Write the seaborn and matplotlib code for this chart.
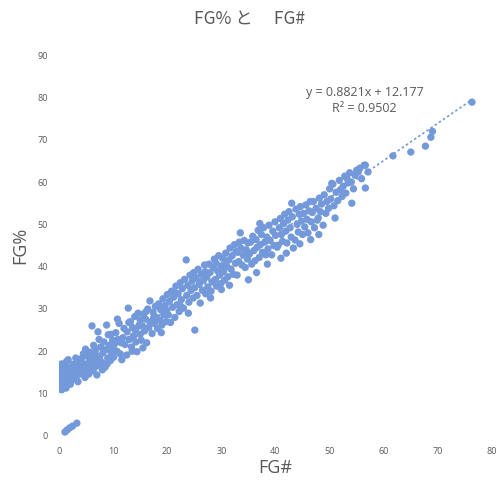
import matplotlib
matplotlib.use("Agg")
import matplotlib.pyplot as plt
import seaborn as sns
import numpy as np
import pandas as pd

title = "FG% と\u3000 FG#"
x_label = "FG#"
y_label = "FG%"
slope = 0.8821
intercept = 12.177
r2 = 0.9502
x_ticks = [0, 10, 20, 30, 40, 50, 60, 70, 80]
y_ticks = [0, 10, 20, 30, 40, 50, 60, 70, 80, 90]

origin_x = [1.1, 1.5, 2.0, 2.5, 3.3]
origin_y = [0.9, 1.4, 1.9, 2.3, 3.0]

band0_x = [0.3, 0.5, 0.8, 1.3, 0.2, 0.5, 1.0, 1.5, 0.3, 0.7, 1.2, 1.8, 0.4, 0.9, 1.4, 2.0, 0.6, 1.1, 1.7, 0.5, 1.4, 1.7, 2.2, 2.4, 2.1, 2.6]
band0_y = [11.0, 10.9, 11.5, 11.3, 12.5, 13.0, 12.6, 12.8, 13.7, 14.2, 14.0, 13.6, 15.0, 15.3, 15.0, 14.6, 16.0, 16.4, 16.1, 17.0, 17.6, 18.0, 15.8, 13.2, 12.2, 14.1]

band1_x = [2.8, 3.0, 3.2, 3.4, 3.6, 3.8, 4.0, 4.2, 4.4, 4.6, 4.8, 5.0, 5.2, 5.4, 5.6, 5.8, 6.0, 3.1, 4.5, 2.6, 3.5, 5.5, 4.9, 6.0, 2.9]
band1_y = [15.2, 16.6, 13.9, 15.6, 17.2, 14.6, 16.0, 18.3, 15.2, 17.0, 13.8, 16.4, 18.9, 15.6, 17.6, 19.8, 16.6, 18.4, 19.4, 16.9, 12.8, 14.6, 20.5, 18.6, 14.0]

band2_x = [6.1, 6.3, 6.5, 6.7, 6.9, 7.0, 7.2, 7.3, 7.5, 7.7, 7.9, 8.1, 8.3, 8.5, 8.7, 8.8, 9.0, 9.1, 9.3, 9.5, 9.7, 9.9, 10.0, 6.4, 8.0, 7.4, 9.6, 6.8, 8.9, 10.1]
band2_y = [26.0, 15.4, 17.9, 20.2, 19.0, 14.4, 24.6, 16.8, 18.4, 21.0, 17.4, 19.6, 22.2, 16.2, 20.4, 26.2, 18.4, 23.9, 21.4, 17.8, 19.6, 22.6, 20.8, 21.4, 15.6, 22.8, 24.0, 16.4, 17.0, 18.6]

band3_x = [10.3, 10.5, 10.7, 10.9, 11.1, 11.3, 11.6, 11.8, 12.0, 12.2, 12.5, 12.6, 12.8, 13.0, 13.2, 13.4, 13.6, 13.8, 14.0, 14.2, 14.4, 14.6, 14.8, 15.0, 11.5, 12.9, 14.1, 10.8, 13.5, 15.0]
band3_y = [21.8, 24.4, 20.0, 22.8, 26.6, 19.4, 18.0, 23.2, 25.4, 21.6, 19.1, 24.6, 30.2, 22.8, 27.0, 21.0, 25.6, 23.6, 28.2, 22.2, 19.9, 29.0, 26.2, 24.0, 22.0, 26.8, 25.0, 27.6, 20.0, 27.4]

band4_x = [15.2, 15.4, 15.6, 15.8, 16.0, 16.2, 16.4, 16.6, 16.8, 17.0, 17.2, 17.4, 17.6, 17.8, 18.0, 18.2, 18.4, 18.6, 18.8, 19.0, 19.2, 19.4, 19.6, 19.8, 20.0, 16.1, 17.5, 18.9, 19.9, 15.5]
band4_y = [22.6, 26.0, 28.8, 24.8, 27.6, 22.0, 30.0, 25.6, 31.9, 27.0, 24.2, 29.2, 26.6, 30.6, 28.0, 25.4, 31.2, 27.4, 29.8, 26.2, 32.4, 28.6, 30.8, 27.0, 33.4, 29.4, 28.0, 24.4, 29.6, 20.8]

band5_x = [20.2, 20.4, 20.6, 20.8, 21.0, 21.2, 21.4, 21.6, 21.8, 22.0, 22.2, 22.4, 22.6, 22.8, 23.0, 23.2, 23.5, 23.6, 23.8, 24.0, 24.2, 24.4, 24.6, 24.8, 25.0, 25.1, 21.5, 22.5, 23.9, 24.9]
band5_y = [28.6, 31.8, 26.8, 34.2, 30.4, 32.8, 28.0, 35.4, 31.0, 33.6, 29.4, 36.2, 32.2, 34.8, 30.2, 37.0, 41.6, 33.2, 35.6, 31.6, 38.0, 34.4, 36.6, 32.6, 35.0, 25.0, 33.8, 30.6, 29.0, 38.6]

band6_x = [25.3, 25.5, 25.7, 25.9, 26.1, 26.3, 26.5, 26.7, 26.9, 27.1, 27.3, 27.5, 27.7, 27.9, 28.1, 28.3, 28.5, 28.7, 28.9, 29.1, 29.3, 29.5, 29.7, 29.9, 30.0, 26.0, 27.0, 28.0, 29.0, 30.0]
band6_y = [37.4, 33.2, 39.4, 35.8, 31.4, 38.2, 34.4, 36.8, 40.4, 33.6, 37.6, 35.2, 40.6, 38.6, 34.2, 36.4, 39.8, 41.8, 37.0, 35.4, 39.0, 42.6, 38.0, 36.0, 40.2, 36.4, 38.8, 32.6, 40.8, 34.6]

band7_x = [30.2, 30.4, 30.6, 30.8, 31.0, 31.2, 31.4, 31.6, 31.8, 32.0, 32.2, 32.4, 32.6, 32.9, 33.0, 33.2, 33.5, 33.6, 33.8, 34.0, 34.2, 34.4, 34.6, 34.8, 35.0, 31.5, 33.3, 34.9, 30.9, 32.7]
band7_y = [42.0, 38.8, 36.8, 43.2, 40.0, 37.6, 41.6, 44.4, 39.4, 42.6, 38.2, 45.2, 40.8, 38.0, 43.4, 41.2, 48.0, 44.4, 40.4, 42.8, 46.2, 39.8, 44.0, 41.8, 36.9, 35.6, 45.8, 45.6, 41.2, 43.6]

band8_x = [35.2, 35.4, 35.6, 35.8, 36.0, 36.2, 36.4, 36.6, 36.8, 37.0, 37.2, 37.4, 37.6, 37.8, 38.0, 38.2, 38.4, 38.6, 38.8, 39.0, 39.3, 39.5, 39.7, 39.9, 40.0, 36.5, 38.5, 37.1]
band8_y = [43.0, 45.8, 40.6, 47.2, 43.8, 41.4, 46.4, 44.6, 48.6, 42.2, 45.2, 47.6, 43.4, 49.2, 45.8, 42.8, 47.0, 44.2, 49.8, 46.2, 42.8, 48.4, 45.0, 50.6, 47.4, 38.6, 40.6, 50.2]

band9_x = [40.3, 40.5, 40.7, 40.9, 41.1, 41.3, 41.5, 41.7, 41.9, 42.1, 42.3, 42.5, 42.7, 42.9, 43.1, 43.3, 43.6, 43.8, 44.0, 44.2, 44.4, 44.6, 44.8, 45.0, 41.0, 42.0, 44.5, 43.0]
band9_y = [44.6, 45.1, 49.2, 51.4, 47.6, 46.0, 50.2, 52.4, 48.4, 45.6, 51.0, 53.0, 49.2, 47.0, 51.8, 44.4, 46.3, 53.6, 50.0, 48.2, 52.4, 54.2, 50.8, 47.6, 42.0, 43.2, 45.4, 55.0]

band10_x = [45.2, 45.4, 45.6, 45.8, 46.0, 46.2, 46.4, 46.6, 46.8, 47.0, 47.2, 47.5, 47.7, 47.9, 48.1, 48.3, 48.5, 48.8, 49.0, 49.3, 49.5, 49.8, 50.0, 46.5, 48.0]
band10_y = [52.6, 49.4, 54.6, 51.2, 48.0, 53.2, 55.4, 50.6, 52.8, 55.4, 49.2, 53.8, 51.0, 51.5, 56.2, 53.0, 54.8, 49.8, 57.0, 52.6, 55.4, 53.8, 58.4, 46.4, 47.6]

band11_x = [50.2, 50.4, 50.6, 50.8, 51.0, 51.2, 51.5, 51.8, 52.0, 52.3, 52.5, 52.8, 53.0, 53.2, 53.4, 53.7, 54.0, 54.1, 54.4, 54.7, 55.0, 55.3, 55.6, 55.9, 56.4, 56.6, 56.6, 57.1]
band11_y = [56.0, 59.7, 59.5, 54.4, 51.5, 57.6, 55.6, 60.4, 58.2, 56.6, 59.0, 61.4, 57.4, 60.9, 59.8, 62.2, 60.0, 55.0, 58.4, 61.6, 62.8, 62.4, 63.3, 60.8, 64.0, 58.6, 64.0, 62.4]

top_x = [61.7, 65.0, 67.7, 68.7, 69.0, 76.3]
top_y = [66.2, 67.1, 68.5, 70.6, 72.0, 78.9]

xs = (origin_x + band0_x + band1_x + band2_x + band3_x + band4_x + band5_x + band6_x
      + band7_x + band8_x + band9_x + band10_x + band11_x + top_x)
ys = (origin_y + band0_y + band1_y + band2_y + band3_y + band4_y + band5_y + band6_y
      + band7_y + band8_y + band9_y + band10_y + band11_y + top_y)
df = pd.DataFrame({"FG#": xs, "FG%": ys})

sns.set_theme(style="white")
plt.rcParams["font.family"] = ["Open Sans", "Noto Sans CJK JP", "DejaVu Sans"]

point_color = "#7499da"
text_color = "#595959"

fig = plt.figure(figsize=(5, 4.8), dpi=100)
ax = fig.add_axes([0.118, 0.092, 0.866, 0.793])

sns.scatterplot(data=df, x="FG#", y="FG%", ax=ax, color=point_color, s=28,
                edgecolor="none", linewidth=0)

line_x = np.array([min(xs), max(xs)])
line_y = slope * line_x + intercept
sns.lineplot(x=line_x, y=line_y, ax=ax, color=point_color, linestyle=(0, (1.5, 1.5)),
             linewidth=1.2)

ax.set_xlim(0, 80)
ax.set_ylim(0, 90)
ax.set_xticks(x_ticks)
ax.set_yticks(y_ticks)
ax.tick_params(axis="both", labelsize=6.5, colors=text_color, length=0, pad=8)
for s in ax.spines.values():
    s.set_visible(False)
ax.set_xlabel(x_label, fontsize=13, color=text_color, labelpad=2)
ax.set_ylabel(y_label, fontsize=13, color=text_color, labelpad=6)

ax.text(56.5, 81.2, f"y = {slope}x + {intercept}", ha="center", va="center",
        fontsize=9, color=text_color)
ax.text(56.5, 77.4, f"R\u00b2 = {r2}", ha="center", va="center",
        fontsize=9, color=text_color)

fig.text(0.5, 0.962, title, ha="center", va="center", fontsize=12.5, color=text_color,
         family=["Noto Sans CJK JP", "DejaVu Sans"])

fig.savefig("out.png", dpi=100, facecolor="white")
